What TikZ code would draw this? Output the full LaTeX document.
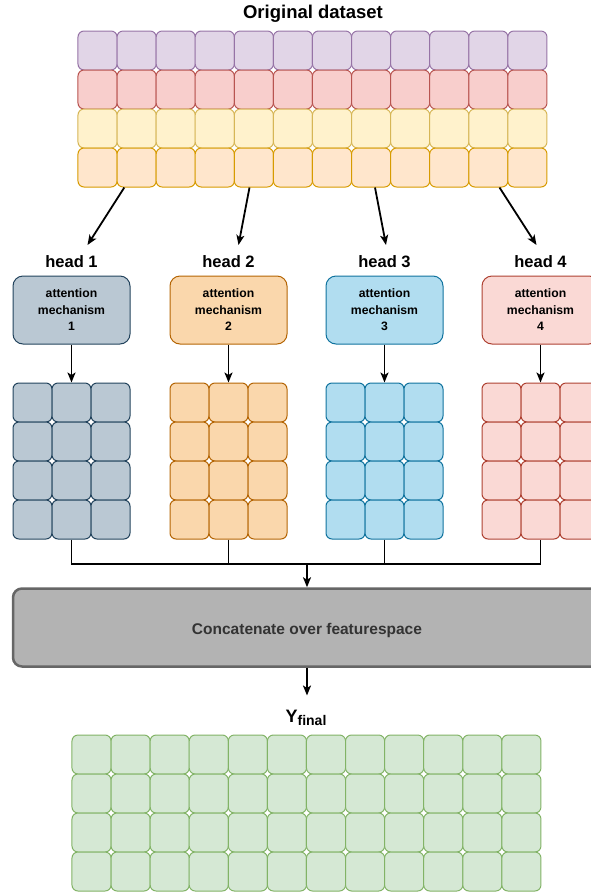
\documentclass[tikz,border=0pt]{standalone}
\usepackage{fontspec}
\setmainfont{Liberation Sans}
\usetikzlibrary{arrows.meta}

% cell palettes (fill / stroke)
\definecolor{purpleF}{HTML}{E1D5E7}\definecolor{purpleS}{HTML}{9673A6}
\definecolor{redF}{HTML}{F8CECC}\definecolor{redS}{HTML}{B85450}
\definecolor{yellowF}{HTML}{FFF2CC}\definecolor{yellowS}{HTML}{D6B656}
\definecolor{orangeF}{HTML}{FFE6CC}\definecolor{orangeS}{HTML}{D79B00}
\definecolor{slateF}{HTML}{BAC8D3}\definecolor{slateS}{HTML}{23445D}
\definecolor{amberF}{HTML}{FAD7AC}\definecolor{amberS}{HTML}{B46504}
\definecolor{skyF}{HTML}{B1DDF0}\definecolor{skyS}{HTML}{10739E}
\definecolor{roseF}{HTML}{FAD9D5}\definecolor{roseS}{HTML}{AE4132}
\definecolor{greenF}{HTML}{D5E8D4}\definecolor{greenS}{HTML}{82B366}
\definecolor{concatF}{HTML}{B3B3B3}\definecolor{concatS}{HTML}{666666}
\definecolor{concatT}{HTML}{333333}

\begin{document}
\begin{tikzpicture}[x=1pt,y=-1pt,
  cell/.style={draw, rounded corners=6pt, line width=1pt,
    minimum width=39.1pt, minimum height=39pt, inner sep=0pt},
  attn/.style={draw, rounded corners=10pt, line width=1pt,
    minimum width=117pt, minimum height=68pt, inner sep=0pt, align=center,
    font=\bfseries\fontsize{12.2}{16.5}\selectfont},
  headlbl/.style={anchor=base, inner sep=0pt, font=\bfseries\fontsize{16.5}{16.5}\selectfont},
  titlelbl/.style={anchor=base, inner sep=0pt, font=\bfseries\fontsize{18.5}{18.5}\selectfont},
  concatbox/.style={draw=concatS, fill=concatF, line width=2.5pt, rounded corners=9pt,
    minimum width=588pt, minimum height=78pt, inner sep=0pt, text=concatT,
    font=\bfseries\fontsize{15.5}{15.5}\selectfont},
  arr/.style={line width=1.8pt, -{Stealth[length=10pt,width=8pt,inset=2.5pt]}},
  conn/.style={line width=1.4pt}
]
\clip (0,0) rectangle (591,892);

% ---- input dataset ----
\node[titlelbl] (title) at (313,18.5) {Original dataset};
\foreach \r/\f/\s in {1/purpleF/purpleS, 2/redF/redS, 3/yellowF/yellowS, 4/orangeF/orangeS}
  \foreach \c in {1,...,12}
    \node[cell, fill=\f, draw=\s] (o-\r-\c) at ({78+39.08*(\c-0.5)},{31+39*(\r-0.5)}) {};

% split arrows to the heads
\coordinate (s1) at (124.3,187.5); \coordinate (e1) at (87.5,245);
\coordinate (s2) at (249.5,187.5); \coordinate (e2) at (238.5,245);
\coordinate (s3) at (375,187.5);   \coordinate (e3) at (386,245);
\coordinate (s4) at (499.5,187.5); \coordinate (e4) at (536.5,245);
\foreach \i in {1,...,4} \draw[arr] (s\i) -- (e\i);

% ---- heads ----
\foreach \i/\x/\f/\s in {1/13/slateF/slateS, 2/170/amberF/amberS, 3/326/skyF/skyS, 4/482/roseF/roseS}{
  \node[headlbl] (h\i) at ({\x+58.5},267) {head \i};
  \node[attn, fill=\f, draw=\s] (a\i) at ({\x+58.5},310) {attention\\mechanism\\\i};
  \foreach \r in {1,...,4}
    \foreach \c in {1,2,3}
      \node[cell, fill=\f, draw=\s, minimum width=39pt] (g\i-\r-\c) at ({\x+39*(\c-0.5)},{383+39*(\r-0.5)}) {};
  \draw[arr] (a\i.south) -- (g\i-1-2.north);
}

% ---- merge ----
\coordinate (m) at (307,564);
\draw[conn] (g1-4-2.south) |- (g4-4-2.south |- m) -- (g4-4-2.south);
\draw[conn] (g2-4-2.south) -- (g2-4-2.south |- m);
\draw[conn] (g3-4-2.south) -- (g3-4-2.south |- m);
\node[concatbox, text depth=0pt, text height=0pt] (cc) at (307,627.5) {};
\node[anchor=base, inner sep=0pt, text=concatT, font=\bfseries\fontsize{15.5}{15.5}\selectfont]
  (cctext) at (307,634) {Concatenate over featurespace};
\draw[arr] (m) -- (cc.north);

% ---- output ----
\coordinate (yt) at (307,695.5);
\draw[arr] (cc.south) -- (yt);
\node[anchor=base, inner sep=0pt] (yf) at (306,722.5)
  {\bfseries\fontsize{18}{18}\selectfont Y\raisebox{-3pt}{\fontsize{14}{14}\selectfont final}};
\foreach \r in {1,...,4}
  \foreach \c in {1,...,12}
    \node[cell, fill=greenF, draw=greenS] (y-\r-\c) at ({72+39.08*(\c-0.5)},{735+39*(\r-0.5)}) {};
\end{tikzpicture}
\end{document}
